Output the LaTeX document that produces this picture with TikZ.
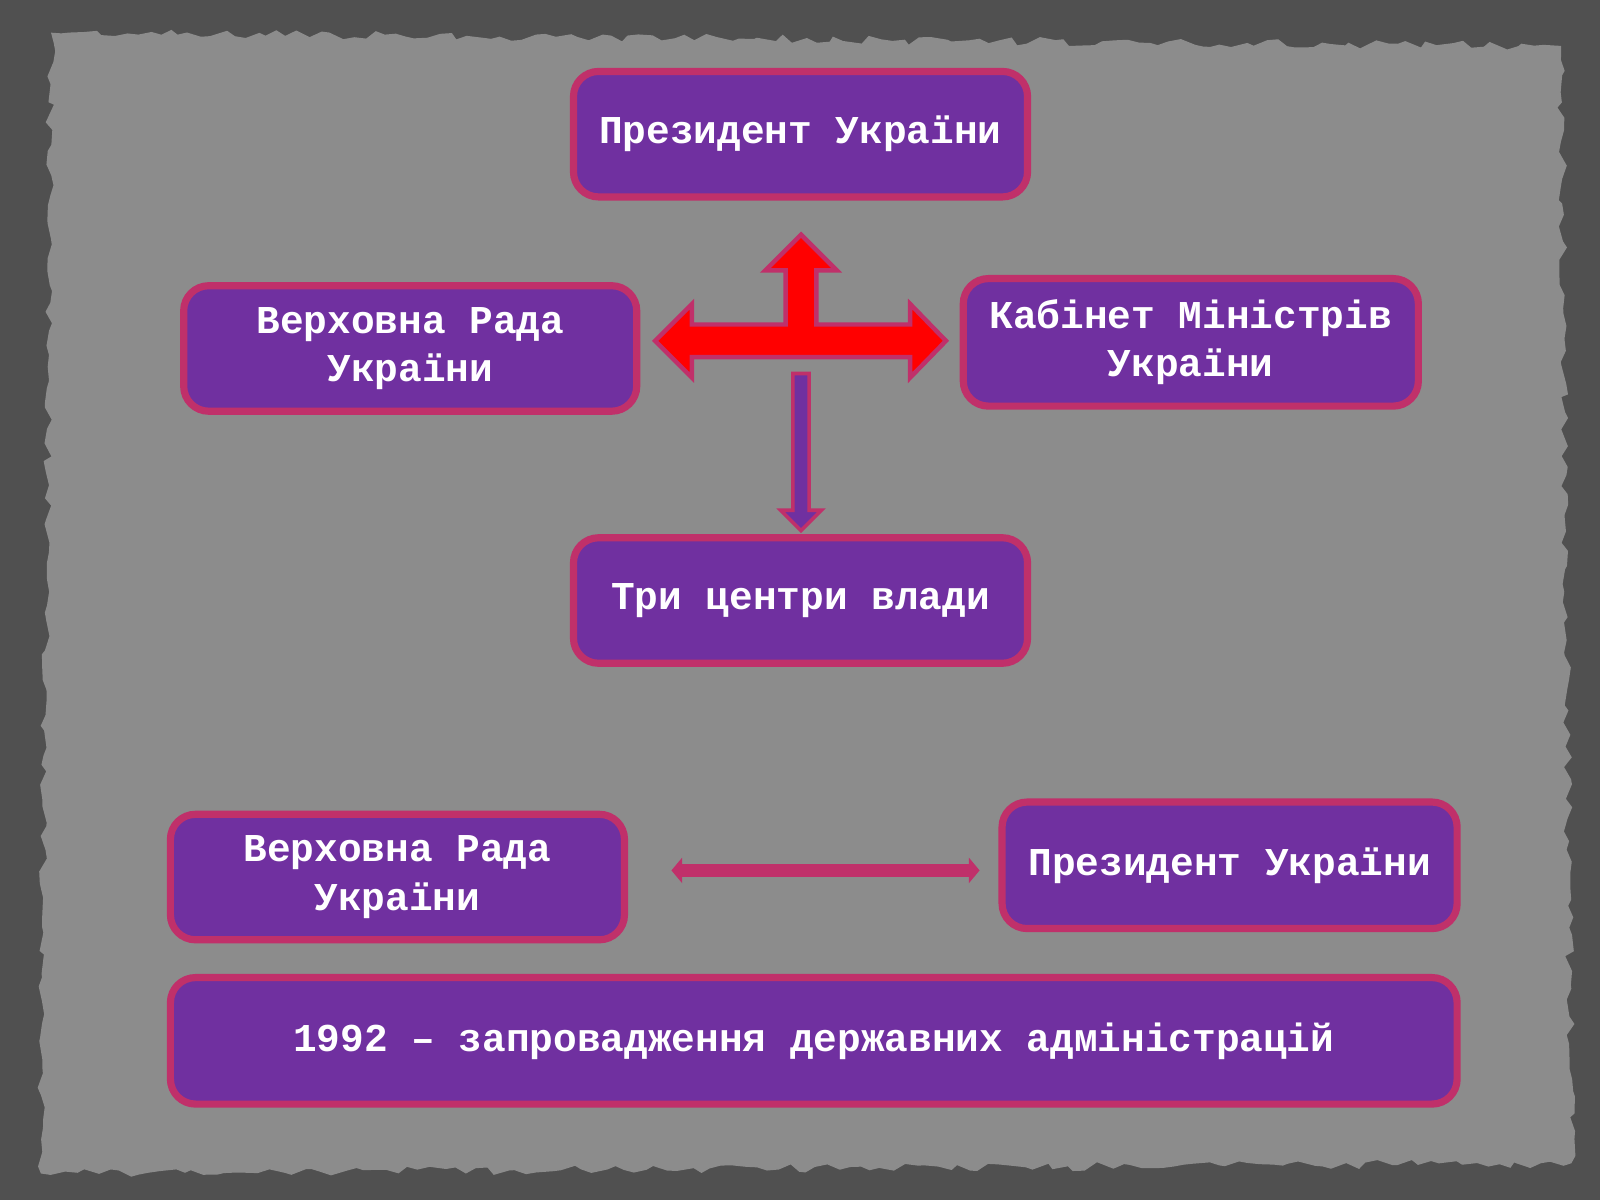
\documentclass[tikz,border=0pt]{standalone}
\usepackage{fontspec}
\setmonofont{Liberation Mono}
\usetikzlibrary{decorations.pathmorphing,arrows.meta}
\definecolor{boxfill}{HTML}{7030A0}
\definecolor{boxedge}{HTML}{C0306A}
\definecolor{outer}{HTML}{505050}
\definecolor{paper}{HTML}{8C8C8C}
\tikzset{
  pbox/.style={draw=boxedge,fill=boxfill,line width=4pt,rounded corners=14pt,
    text=white,font=\ttfamily\bfseries\fontsize{22}{27}\selectfont,align=center,inner sep=0pt},
}
\begin{document}
\begin{tikzpicture}[x=0.02cm,y=-0.02cm]
\fill[outer] (0,0) rectangle (1568,1176);
\useasboundingbox (0,0) rectangle (1568,1176);
\fill[paper,decorate,decoration={random steps,segment length=6pt,amplitude=2.5pt}]
  (50,32) -- (1530,45) -- (1540,1140) -- (40,1150) -- cycle;
% boxes
\node[pbox,minimum width=445*0.02cm,minimum height=123*0.02cm] (pres) at (784.5,131.5) {Президент України};
\node[pbox,minimum width=444*0.02cm,minimum height=123*0.02cm] (vr) at (402,341.5) {Верховна Рада\\України};
\node[pbox,minimum width=446*0.02cm,minimum height=125*0.02cm] (km) at (1167,335.5) {Кабінет Міністрів\\України};
\node[pbox,minimum width=445*0.02cm,minimum height=123*0.02cm] (tri) at (784.5,588.5) {Три центри влади};
\node[pbox,minimum width=445*0.02cm,minimum height=123*0.02cm] (vr2) at (389.5,859.5) {Верховна Рада\\України};
\node[pbox,minimum width=446*0.02cm,minimum height=124*0.02cm] (pres2) at (1205,848) {Президент України};
\node[pbox,minimum width=1261*0.02cm,minimum height=124*0.02cm] (yr) at (797.5,1020) {1992 – запровадження державних адміністрацій};
% red cross arrow
\coordinate (cross) at (785,334);
\draw[boxedge,fill=red,line width=2.5pt,line join=miter]
  (642,334) -- (678,298) -- (678,318) -- (770,318) -- (770,265) -- (750,265)
  -- (785,230) -- (820,265) -- (800,265) -- (800,318) -- (892,318) -- (892,298)
  -- (927,334) -- (892,370) -- (892,350) -- (678,350) -- (678,370) -- cycle;
% down arrow
\coordinate (dtop) at (785,366);
\draw[boxedge,fill=boxfill,line width=2pt]
  (777,366) -- (793,366) -- (793,500) -- (805,500) -- (785,520) -- (765,500) -- (777,500) -- cycle;
% bottom double arrow
\coordinate (la) at (658,853);
\coordinate (ra) at (960,853);
\draw[boxedge,line width=7pt,{Triangle[length=6pt,width=14pt]}-{Triangle[length=6pt,width=14pt]}] (la) -- (ra);
\end{tikzpicture}
\end{document}
